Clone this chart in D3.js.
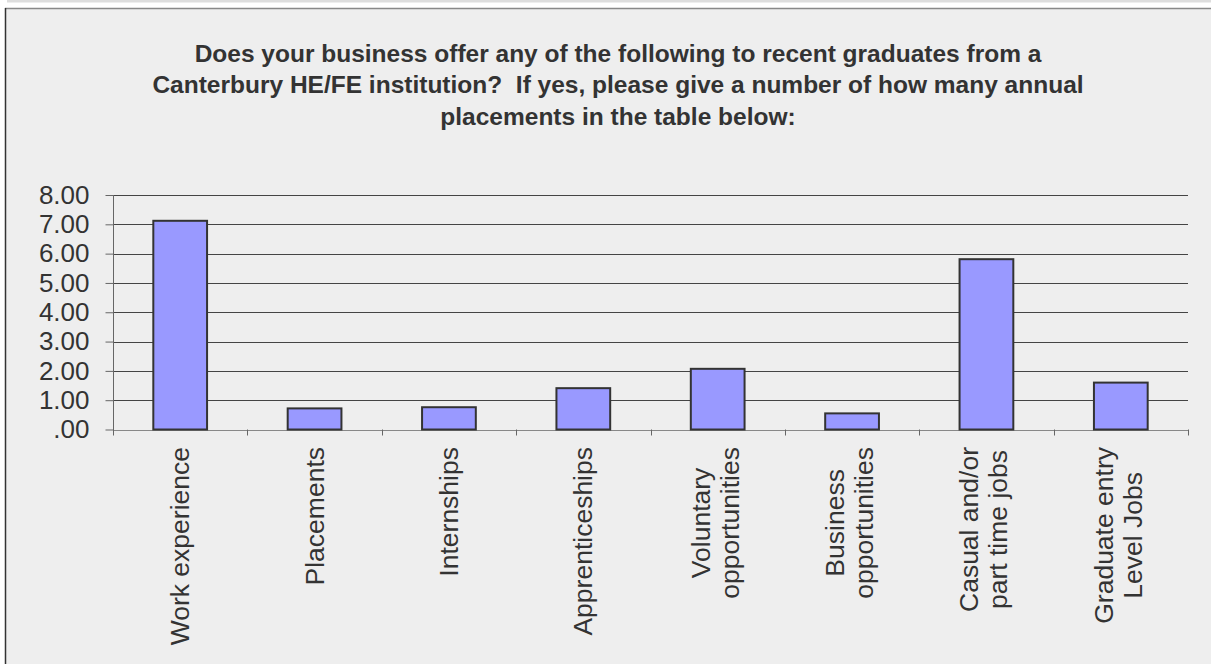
<!DOCTYPE html>
<html>
<head>
<meta charset="utf-8">
<script src="https://cdn.jsdelivr.net/npm/d3@7"></script>
<style>
  html, body { margin: 0; padding: 0; background: #ffffff; }
  svg { display: block; }
</style>
</head>
<body>
<svg id="chart" width="1211" height="664"></svg>
<script>
// ---- Data ----
const categories = [
  ["Work experience"],
  ["Placements"],
  ["Internships"],
  ["Apprenticeships"],
  ["Voluntary", "opportunities"],
  ["Business", "opportunities"],
  ["Casual and/or", "part time jobs"],
  ["Graduate entry", "Level Jobs"]
];
const values = [7.12, 0.72, 0.76, 1.41, 2.07, 0.55, 5.81, 1.60];
const yTicks = [0, 1, 2, 3, 4, 5, 6, 7, 8];
const titleLines = [
  "Does your business offer any of the following to recent graduates from a",
  "Canterbury HE/FE institution?  If yes, please give a number of how many annual",
  "placements in the table below:"
];

// ---- Layout ----
const W = 1211, H = 664;
const plot = { left: 113, right: 1188, top: 195, bottom: 429.5 };
const svg = d3.select("#chart");
const font = "'Liberation Sans', Arial, sans-serif";

// Frame
svg.append("rect").attr("x", 7).attr("y", 0).attr("width", W - 7).attr("height", 2.5).attr("fill", "#dddddd");
svg.append("rect").attr("x", 5).attr("y", 8).attr("width", W - 5).attr("height", H - 8).attr("fill", "#eeeeee");
svg.append("line").attr("x1", 5).attr("x2", W).attr("y1", 8.5).attr("y2", 8.5).attr("stroke", "#888").attr("stroke-width", 1.5);
svg.append("line").attr("x1", 5.5).attr("x2", 5.5).attr("y1", 8).attr("y2", H).attr("stroke", "#333").attr("stroke-width", 1.5);

// Title
const title = svg.append("text")
  .attr("font-family", font)
  .attr("font-weight", "bold")
  .attr("font-size", 24.5)
  .attr("fill", "#333")
  .attr("text-anchor", "middle")
  .style("white-space", "pre");
titleLines.forEach((t, i) => {
  title.append("tspan").attr("x", 618).attr("y", 61.5 + i * 31.5).text(t);
});

// Scales
const x = d3.scaleBand()
  .domain(d3.range(categories.length))
  .range([plot.left, plot.right])
  .paddingInner(0.6)
  .paddingOuter(0.3);
const y = d3.scaleLinear().domain([0, 8]).range([plot.bottom, plot.top]);

// Gridlines
svg.append("g").selectAll("line")
  .data(yTicks)
  .join("line")
  .attr("x1", plot.left).attr("x2", plot.right)
  .attr("y1", d => Math.round(y(d)) + 0.5).attr("y2", d => Math.round(y(d)) + 0.5)
  .attr("stroke", d => d === 0 ? "#888" : "#444")
  .attr("stroke-width", 1);

// Y axis
const fmt = v => d3.format(".2f")(v).replace(/^0\./, ".");
const yAxis = svg.append("g")
  .attr("transform", `translate(${plot.left + 0.5},0)`)
  .call(d3.axisLeft(y).tickValues(yTicks).tickFormat(fmt).tickSize(8).tickPadding(16));
yAxis.select(".domain").attr("stroke", "#666").attr("d", `M0,${plot.top}V${plot.bottom + 5}`);
yAxis.selectAll(".tick line").attr("stroke", "#666");
yAxis.selectAll(".tick text")
  .attr("font-family", font).attr("font-size", 26).attr("fill", "#333");

// X axis category boundary ticks
const step = x.step();
const boundaries = d3.range(categories.length + 1).map(i => plot.left + i * step);
svg.append("g").selectAll("line")
  .data(boundaries)
  .join("line")
  .attr("x1", d => Math.round(d) + 0.5).attr("x2", d => Math.round(d) + 0.5)
  .attr("y1", plot.bottom).attr("y2", plot.bottom + 6)
  .attr("stroke", "#666");

// Bars
svg.append("g").selectAll("rect")
  .data(values)
  .join("rect")
  .attr("x", (d, i) => x(i))
  .attr("y", d => y(d))
  .attr("width", x.bandwidth())
  .attr("height", d => y(0) - y(d))
  .attr("fill", "#9999ff")
  .attr("stroke", "#333")
  .attr("stroke-width", 2);

// Category labels
const labelTop = 447;
const lineGap = 29;
categories.forEach((lines, i) => {
  const cx = x(i) + x.bandwidth() / 2 - (lines.length - 1) * 2.5;
  const g = svg.append("g").attr("transform", `translate(${cx},${labelTop}) rotate(-90)`);
  const texts = lines.map((t, j) => g.append("text")
    .attr("font-family", font).attr("font-size", 26.5).attr("fill", "#333")
    .attr("text-anchor", "middle")
    .attr("dominant-baseline", "central")
    .attr("y", (j - (lines.length - 1) / 2) * lineGap)
    .text(t));
  const maxLen = d3.max(texts, t => t.node().getComputedTextLength());
  texts.forEach(t => t.attr("x", -maxLen / 2));
});
</script>
</body>
</html>
